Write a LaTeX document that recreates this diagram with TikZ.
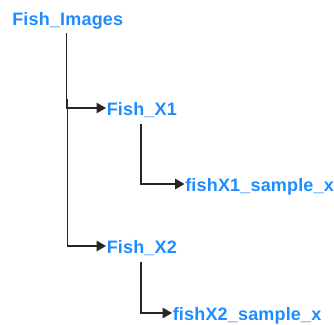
\documentclass[tikz,border=0pt]{standalone}
\usepackage{fontspec}
\setmainfont{Liberation Sans}[LetterSpace=1]
\usetikzlibrary{arrows.meta}
\definecolor{folderblue}{RGB}{30,140,255}
\tikzset{
  folder/.style={anchor=base west, inner xsep=0.6pt, inner ysep=0pt,
    text height=14pt, text depth=0pt, text=folderblue,
    font=\fontsize{18pt}{21pt}\selectfont\bfseries},
  link/.style={draw=black!85, line width=1.6pt,
    -{Triangle[length=9.5pt,width=10.5pt]}},
}
\begin{document}
\begin{tikzpicture}[x=1pt,y=1pt]
  \useasboundingbox (0,0) rectangle (334,-324);
  % folder names
  \node[folder] (root) at (11.5,-25)  {Fish\_Images};
  \node[folder] (x1)   at (106,-115)  {Fish\_X1};
  \node[folder] (s1)   at (184.5,-191) {fishX1\_sample\_x};
  \node[folder] (x2)   at (106,-253)  {Fish\_X2};
  \node[folder] (s2)   at (172,-320)  {fishX2\_sample\_x};
  \coordinate (split) at (67.5,-99);
  % tree links
  \draw[link, shorten <=8pt] ([xshift=-1.2pt]root.south) |- (x1.west);
  \draw[link] (split) |- (x2.west);
  \draw[link, shorten <=9pt] ([xshift=-1pt]x1.south) |- (s1.west);
  \draw[link, shorten <=9pt] ([xshift=-1pt]x2.south) |- (s2.west);
\end{tikzpicture}
\end{document}
